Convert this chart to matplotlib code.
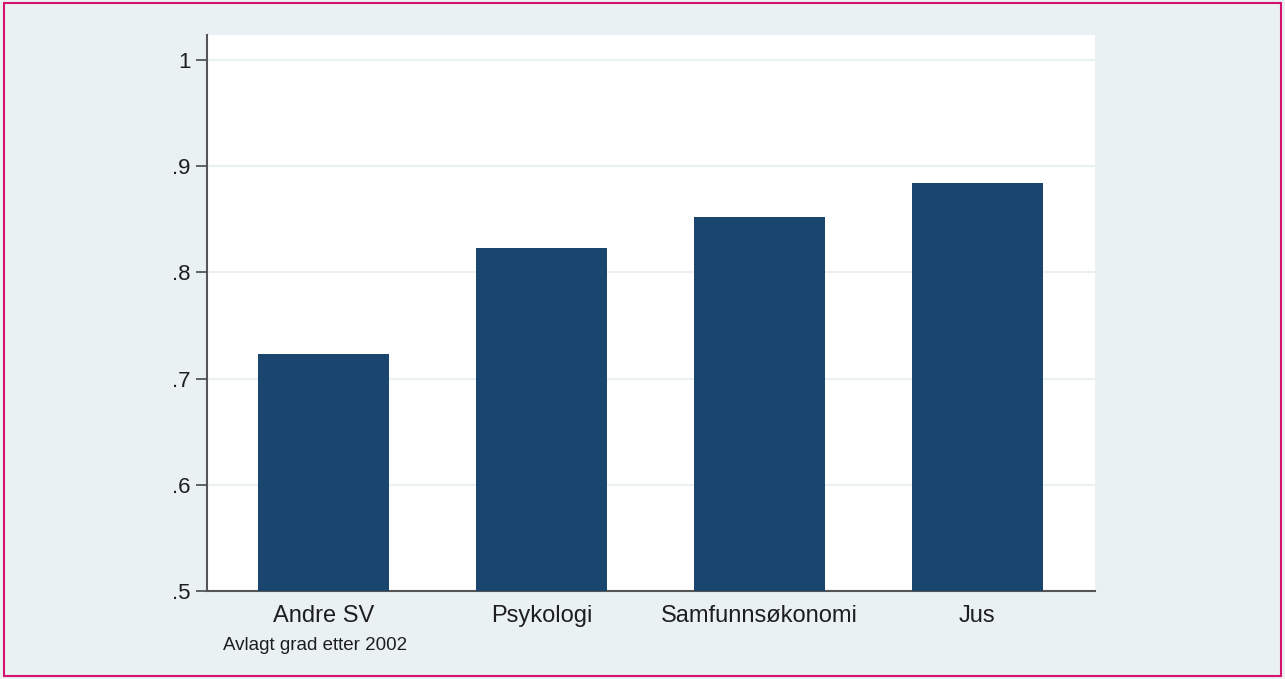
import matplotlib.pyplot as plt
from matplotlib.patches import Rectangle

categories = ['Andre SV', 'Psykologi', 'Samfunnsøkonomi', 'Jus']
values = [0.723, 0.823, 0.852, 0.884]
yticks = [0.5, 0.6, 0.7, 0.8, 0.9, 1.0]
ytick_labels = ['.5', '.6', '.7', '.8', '.9', '1']
note = 'Avlagt grad etter 2002'

bg = '#eaf1f3'
bar_color = '#1a456e'

plt.rcParams['font.family'] = ['Liberation Sans', 'DejaVu Sans']

fig = plt.figure(figsize=(12.85, 6.79), dpi=100, facecolor=bg)
ax = fig.add_axes([207 / 1285, 1 - 591 / 679, 888 / 1285, 556 / 679])
ax.set_facecolor('white')

x = list(range(len(categories)))
ax.bar(x, values, width=0.6, color=bar_color, zorder=3)

ax.set_xlim(-0.535, 3.54)
ax.set_ylim(0.5, 1.0235)
ax.set_yticks(yticks)
ax.set_yticklabels(ytick_labels, fontsize=16)
ax.set_xticks(x)
ax.set_xticklabels(categories, fontsize=17)
ax.tick_params(axis='x', length=0, pad=10, colors='#1e1e1e')
ax.tick_params(axis='y', length=8, width=1.3, color='#555555', pad=4, labelcolor='#1e1e1e')
ax.grid(axis='y', color=bg, linewidth=1.5, zorder=0)
ax.set_axisbelow(True)

for side in ['top', 'right']:
    ax.spines[side].set_visible(False)
for side in ['left', 'bottom']:
    ax.spines[side].set_color('#555555')
    ax.spines[side].set_linewidth(1.5)

fig.text(315 / 1285, 1 - 645 / 679, note, fontsize=13.5, ha='center', va='center', color='#1e1e1e')

fig.patches.append(Rectangle((0.003, 0.004), 0.994, 0.992, transform=fig.transFigure,
                             fill=False, edgecolor='#d4136d', linewidth=1.5))

fig.savefig('out.png', dpi=100, facecolor=bg)
